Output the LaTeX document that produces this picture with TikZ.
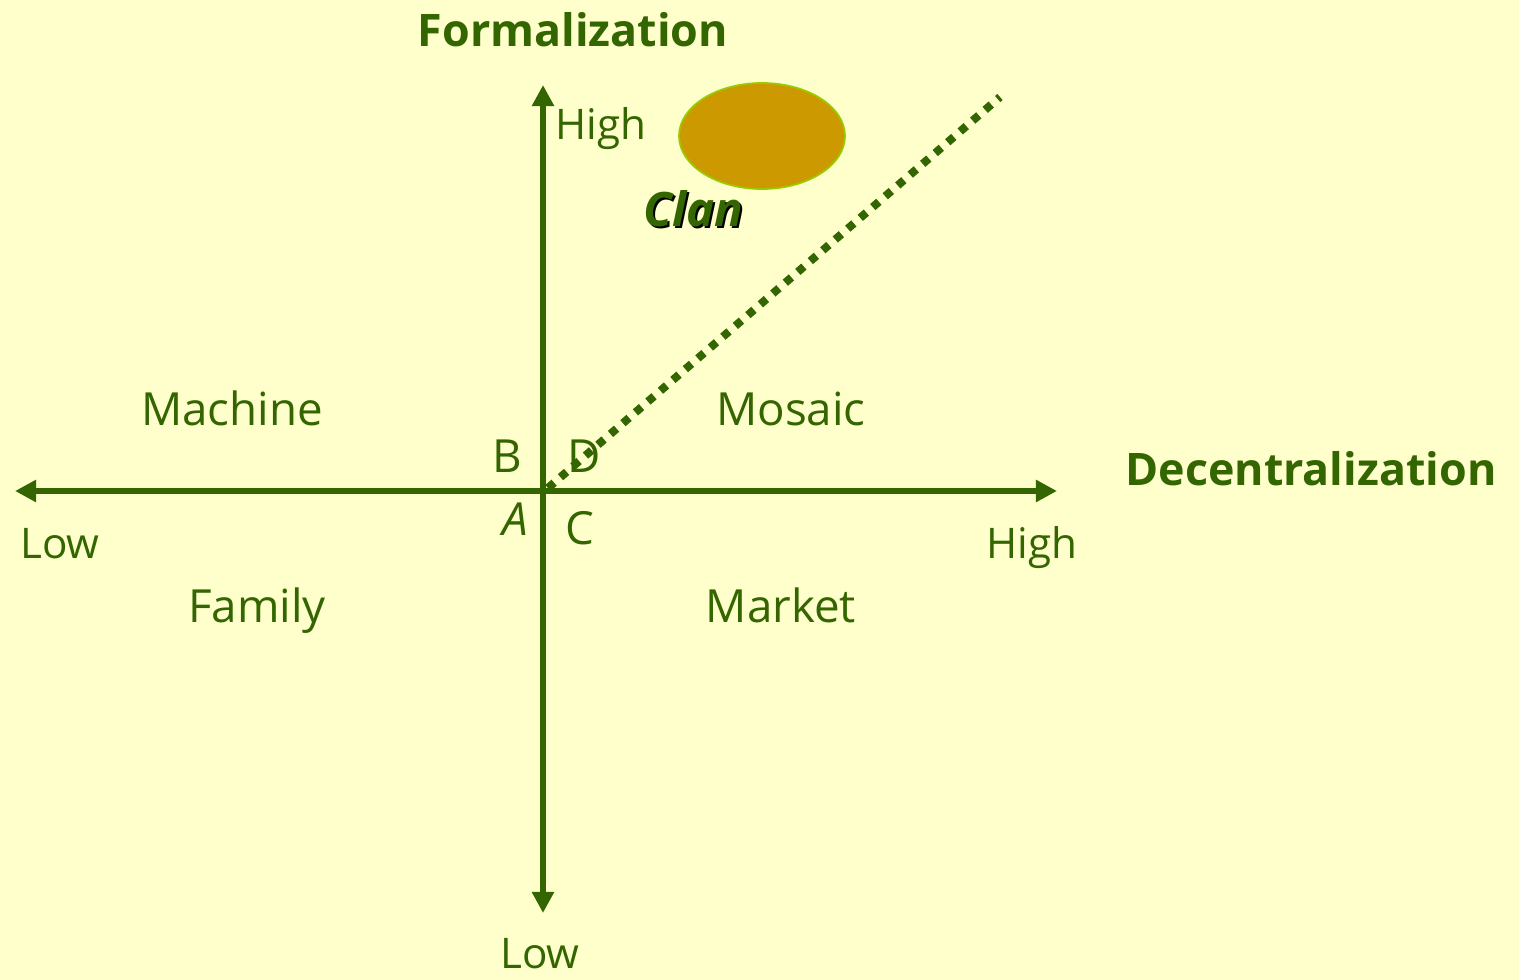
\documentclass[tikz,border=0pt]{standalone}
\usepackage{fontspec}
\setmainfont{Open Sans}
\usetikzlibrary{arrows.meta,shapes.geometric}
\definecolor{paper}{HTML}{FFFFCC}
\definecolor{axisgreen}{HTML}{336600}
\definecolor{clanfill}{HTML}{CC9900}
\definecolor{clanrim}{HTML}{99CC00}
\begin{document}
\begin{tikzpicture}[x=0.02cm, y=-0.02cm,
    axis/.style={draw=axisgreen, line width=3pt,
        {Triangle[length=12pt,width=12pt]}-{Triangle[length=12pt,width=12pt]}},
    label/.style={text=axisgreen, inner sep=0pt, anchor=base, font=\fontsize{24}{28}\selectfont},
    quad/.style={label, font=\fontsize{26}{30}\selectfont},
    title/.style={label, font=\fontsize{25.5}{30}\selectfont\bfseries}]
    \fill[paper] (0,0) rectangle (1519,980);
    \useasboundingbox (0,0) rectangle (1519,980);

    % axes
    \coordinate (west) at (15,491);
    \coordinate (east) at (1057,491);
    \coordinate (north) at (543,85);
    \coordinate (south) at (543,913);
    \coordinate (origin) at (548,488);
    \coordinate (corner) at (1000,97);
    \draw[axis] (west) -- (east);
    \draw[axis] (south) -- (north);
    \draw[axisgreen, line width=4.6pt, dash pattern=on 4.6pt off 4.8pt] (origin) -- (corner);

    % axis titles and ends
    \node[title] (formal) at (573,47) {Formalization};
    \node[title] (decent) at (1311,485) {Decentralization};
    \node[label, anchor=base west] (fhigh) at (555,140) {High};
    \node[label] (flow) at (540,968) {Low};
    \node[label, anchor=base west] (dlow) at (20,558) {Low};
    \node[label] (dhigh) at (1032,558) {High};

    % quadrants
    \node[quad] (machine) at (232,425) {Machine};
    \node[quad] (mosaic) at (791,425) {Mosaic};
    \node[quad] (family) at (257,622) {Family};
    \node[quad] (market) at (781,622) {Market};
    \node[quad] (b) at (507,472) {B};
    \node[quad] (d) at (584,472) {D};
    \node[quad] (a) at (515,535) {\itshape A};
    \node[quad] (c) at (580,544) {C};

    % clan
    \node[ellipse, draw=clanrim, line width=1pt, fill=clanfill, minimum width=3.32cm,
        minimum height=2.12cm, inner sep=0pt] (clanblob) at (762,136) {};
    \node[title, text=black, font=\fontsize{27}{31}\selectfont\bfseries\itshape] at (695,229) {Clan};
    \node[title, font=\fontsize{27}{31}\selectfont\bfseries\itshape] (clan) at (693,227) {Clan};
\end{tikzpicture}
\end{document}
